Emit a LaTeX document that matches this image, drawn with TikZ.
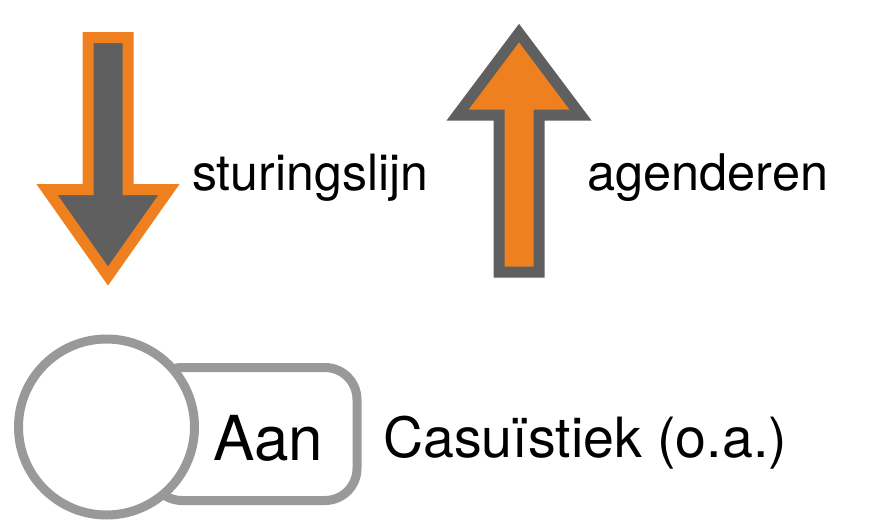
\documentclass[tikz,border=0pt]{standalone}
\usepackage{fontspec}
\setmainfont{TeX Gyre Heros}
\definecolor{legorange}{HTML}{EF8020}
\definecolor{leggray}{HTML}{5F5F5F}
\definecolor{toggray}{HTML}{999999}
\begin{document}
\begin{tikzpicture}[x=1pt, y=-1pt,
        arrowshape/.style={line width=11pt, line join=miter},
        legtext/.style={anchor=base west, inner sep=0pt, font=\fontsize{50}{60}\selectfont}
    ]
    \useasboundingbox (0,0) rectangle (871,520);

    % Arrows
    \draw[arrowshape, draw=legorange, fill=leggray]
        (88,37.5) -- (128,37.5) -- (128,189.5) -- (169,189.5) -- (108,276)
        -- (47,189.5) -- (88,189.5) -- cycle;
    \draw[arrowshape, draw=leggray, fill=legorange]
        (499,272) -- (539,272) -- (539,115) -- (580.5,115) -- (519,33)
        -- (457.5,115) -- (499,115) -- cycle;

    % Toggle
    \draw[line width=9pt, draw=toggray, fill=white, rounded corners=32pt]
        (150,367.5) rectangle (357,500.5);
    \node[circle, draw=toggray, line width=9pt, fill=white, minimum size=176pt, inner sep=0pt] (knob) at (106.5,427) {};

    % Labels
    \node[legtext] (down) at (192,190) {sturingslijn};
    \node[legtext, font=\fontsize{50.5}{60}\selectfont] (up) at (587,190) {agenderen};
    \node[legtext, font=\fontsize{62}{70}\selectfont] (aan) at (213,460) {Aan};
    \node[legtext, font=\fontsize{55.5}{64}\selectfont] (casus) at (383,457) {Casuïstiek (o.a.)};

\end{tikzpicture}
\end{document}
